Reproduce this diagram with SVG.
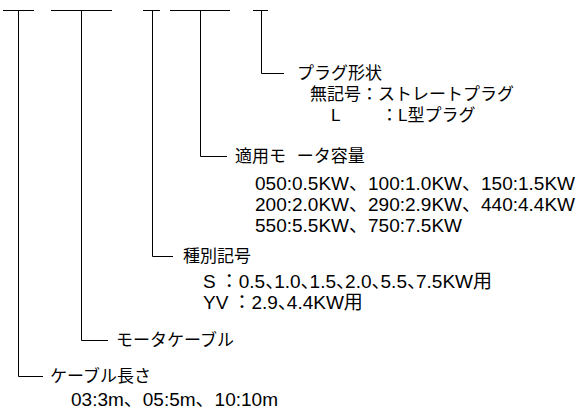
<svg xmlns="http://www.w3.org/2000/svg" width="580" height="414" viewBox="0 0 580 414">
<style>
  .ln { stroke: #000; stroke-width: 1; fill: none; }
  text { font-family: "Liberation Sans", "Noto Sans CJK JP", sans-serif; font-size: 17px; fill: #000; }
  .num { font-size: 19px; }
</style>
<rect width="580" height="414" fill="#fff"/>
<g id="connectors">
  <path class="ln" d="M3 10.5H34 M51 10.5H112 M143 10.5H160 M170 10.5H230 M253 10.5H268"/>
  <path class="ln" d="M18.5 10.5V376.5H43"/>
  <path class="ln" d="M81.5 10.5V340.5H108"/>
  <path class="ln" d="M152.5 10.5V256.5H173"/>
  <path class="ln" d="M200.5 10.5V156.5H227"/>
  <path class="ln" d="M261.5 10.5V73.5H284"/>
</g>
<g id="plug">
  <text x="297" y="79">プラグ形状</text>
  <text x="310" y="100">無記号：ストレートプラグ</text>
  <text x="331" y="121">L</text>
  <text x="381" y="121">：L型プラグ</text>
</g>
<g id="motor-capacity">
  <text x="235" y="162" dx="0 0 0 6">適用モ ータ容量</text>
  <text class="num" x="255" y="190">050:0.5KW、100:1.0KW、150:1.5KW</text>
  <text class="num" x="255" y="211">200:2.0KW、290:2.9KW、440:4.4KW</text>
  <text class="num" x="255" y="232">550:5.5KW、750:7.5KW</text>
</g>
<g id="type-code">
  <text x="183" y="262">種別記号</text>
  <text class="num" x="203" y="288" dx="0 4 0 0 0 0 -10 0 0 0 -10 0 0 0 -10 0 0 0 -10 0 0 0 -10">S：0.5、1.0、1.5、2.0、5.5、7.5KW用</text>
  <text class="num" x="203" y="309" dx="0 0 4 0 0 0 0 -10">YV：2.9、4.4KW用</text>
</g>
<g id="motor-cable">
  <text x="116" y="346">モータケーブル</text>
</g>
<g id="cable-length">
  <text x="50" y="382">ケーブル長さ</text>
  <text class="num" x="71" y="406">03:3m、05:5m、10:10m</text>
</g>
</svg>
